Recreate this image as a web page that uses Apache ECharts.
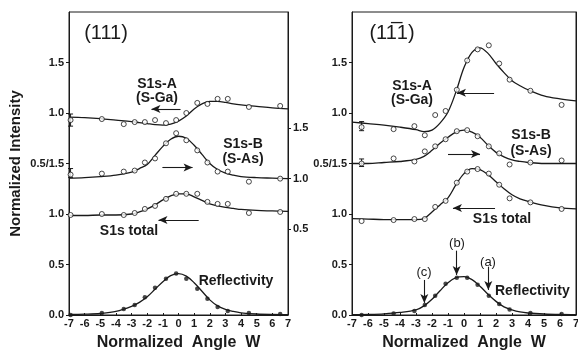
<!DOCTYPE html>
<html>
<head>
<meta charset="utf-8">
<script src="https://cdn.jsdelivr.net/npm/echarts@6/dist/echarts.min.js"></script>
<style>
html, body { margin: 0; padding: 0; background: #fff; }
#chart { width: 578px; height: 352px; }
</style>
</head>
<body>
<div id="chart"></div>
<script>
// angles where the fitted curves are sampled
const curveW = [-7, -6, -5, -4, -3, -2.5, -2, -1.5, -1, -0.5, 0, 0.5, 1, 1.5, 2, 2.5, 3, 3.5, 4, 5, 6, 7]

// (111) panel
const leftPointW = [-6.9, -4.9, -3.5, -2.8, -2.15, -1.5, -0.8, -0.15, 0.5, 1.2, 1.85, 2.5, 3.15, 4.5, 6.5]
const leftA = [0.93, 0.94, 0.89, 0.91, 0.91, 0.93, 0.90, 0.93, 1.00, 1.10, 1.09, 1.14, 1.14, 1.06, 1.07]
const leftB = [1.04, 1.05, 1.07, 1.08, 1.16, 1.20, 1.35, 1.45, 1.38, 1.28, 1.16, 1.07, 1.07, 0.97, 1.00]
const leftTotal = [0.99, 1.00, 0.99, 1.01, 1.05, 1.08, 1.15, 1.20, 1.20, 1.20, 1.12, 1.10, 1.10, 1.01, 1.02]
const leftRefl = [0.00, 0.02, 0.06, 0.10, 0.175, 0.27, 0.36, 0.41, 0.36, 0.26, 0.16, 0.08, 0.04, 0.02, 0.01]
const leftFitA = [0.96, 0.955, 0.945, 0.93, 0.915, 0.905, 0.895, 0.885, 0.88, 0.89, 0.92, 0.97, 1.04, 1.09, 1.115, 1.115, 1.105, 1.09, 1.08, 1.065, 1.05, 1.04]
const leftFitB = [1.005, 1.01, 1.02, 1.035, 1.065, 1.10, 1.14, 1.23, 1.32, 1.39, 1.42, 1.40, 1.33, 1.24, 1.15, 1.09, 1.055, 1.035, 1.02, 1.01, 1.005, 1.0]
const leftFitTotal = [0.985, 0.985, 0.99, 0.99, 1.00, 1.02, 1.05, 1.09, 1.14, 1.18, 1.20, 1.20, 1.17, 1.135, 1.10, 1.08, 1.065, 1.055, 1.045, 1.035, 1.03, 1.025]
const leftFitRefl = [0.005, 0.008, 0.015, 0.035, 0.085, 0.125, 0.18, 0.255, 0.33, 0.39, 0.41, 0.385, 0.32, 0.235, 0.15, 0.09, 0.055, 0.035, 0.022, 0.01, 0.005, 0.003]
const leftErrA = [[-6.9, 0.87, 0.99]]
const leftErrB = [[-6.9, 1.01, 1.10]]

// (1-11) panel
const rightPointW = [-6.4, -4.4, -3.1, -2.45, -1.8, -1.15, -0.45, 0.2, 0.85, 1.55, 2.2, 2.85, 4.15, 6.1]
const rightA = [0.86, 0.84, 0.87, 0.78, 0.98, 1.02, 1.23, 1.52, 1.63, 1.67, 1.49, 1.33, 1.22, 1.08]
const rightB = [1.00, 1.05, 1.02, 1.12, 1.17, 1.24, 1.32, 1.33, 1.27, 1.17, 1.10, 0.99, 1.01, 1.03]
const rightTotal = [0.93, 0.94, 0.95, 0.95, 1.07, 1.13, 1.31, 1.42, 1.445, 1.40, 1.29, 1.155, 1.115, 1.05]
const rightRefl = [0.00, 0.015, 0.04, 0.10, 0.19, 0.31, 0.37, 0.37, 0.30, 0.19, 0.11, 0.055, 0.02, 0.01]
const rightFitA = [0.91, 0.895, 0.88, 0.86, 0.835, 0.815, 0.83, 0.90, 1.01, 1.21, 1.45, 1.60, 1.645, 1.59, 1.49, 1.40, 1.32, 1.27, 1.23, 1.17, 1.14, 1.12]
const rightFitB = [1.0, 1.0, 1.01, 1.02, 1.04, 1.07, 1.13, 1.20, 1.26, 1.31, 1.33, 1.31, 1.26, 1.18, 1.11, 1.065, 1.035, 1.02, 1.01, 1.0, 1.0, 1.0]
const rightFitTotal = [0.955, 0.95, 0.945, 0.945, 0.945, 0.955, 1.02, 1.09, 1.16, 1.29, 1.40, 1.45, 1.44, 1.39, 1.32, 1.25, 1.19, 1.15, 1.125, 1.085, 1.06, 1.05]
const rightFitRefl = [0.003, 0.006, 0.012, 0.025, 0.05, 0.09, 0.155, 0.24, 0.32, 0.37, 0.38, 0.35, 0.285, 0.205, 0.135, 0.08, 0.05, 0.03, 0.02, 0.01, 0.005, 0.003]
const rightErrA = [[-6.4, 0.825, 0.915]]
const rightErrB = [[-6.4, 0.97, 1.045]]

// left axis tick labels (stacked offsets), positions 0, 0.5, ... 2.5
const stackTickLabels = ['0.0', '0.5', '1.0', '0.5/1.5', '1.0', '1.5']

const INK = '#1a1a1a'
const FONT = 'Liberation Sans, Arial, sans-serif'

const pair = (xs, ys) => xs.map((x, i) => [x, ys[i]])

const fitLine = (xi, yi, ys, marks) => ({
  type: 'line',
  xAxisIndex: xi,
  yAxisIndex: yi,
  data: pair(curveW, ys),
  smooth: 0.35,
  showSymbol: false,
  silent: true,
  lineStyle: { color: INK, width: 1.3 },
  markLine: marks ? {
    silent: true,
    symbol: ['none', 'arrow'],
    symbolSize: [6, 9],
    label: { show: false },
    lineStyle: { color: INK, width: 1.1, type: 'solid' },
    data: marks.map(m => [{ coord: m[0] }, { coord: m[1] }])
  } : undefined
})

const dots = (xi, yi, xs, ys, filled) => ({
  type: 'scatter',
  xAxisIndex: xi,
  yAxisIndex: yi,
  data: pair(xs, ys),
  symbol: 'circle',
  symbolSize: filled ? 4.5 : 5,
  z: 4,
  itemStyle: filled
    ? { color: INK }
    : { color: '#fff', borderColor: INK, borderWidth: 1 }
})

const errorBars = (xi, yi, data) => ({
  type: 'custom',
  xAxisIndex: xi,
  yAxisIndex: yi,
  data: data,
  encode: { x: 0, y: [1, 2] },
  silent: true,
  z: 3,
  renderItem: (params, api) => {
    const x = api.value(0)
    const lo = api.coord([x, api.value(1)])
    const hi = api.coord([x, api.value(2)])
    const w = 2.5
    const style = { stroke: INK, lineWidth: 1 }
    return {
      type: 'group',
      children: [
        { type: 'line', shape: { x1: lo[0], y1: lo[1], x2: hi[0], y2: hi[1] }, style },
        { type: 'line', shape: { x1: lo[0] - w, y1: lo[1], x2: lo[0] + w, y2: lo[1] }, style },
        { type: 'line', shape: { x1: hi[0] - w, y1: hi[1], x2: hi[0] + w, y2: hi[1] }, style }
      ]
    }
  }
})

const xAxisFor = (gi) => ({
  type: 'value',
  gridIndex: gi,
  min: -7,
  max: 7,
  interval: 1,
  name: 'Normalized  Angle  W',
  nameLocation: 'middle',
  nameGap: 20,
  nameMoveOverlap: false,
  nameTextStyle: { color: INK, fontFamily: FONT, fontWeight: 'bold', fontSize: 16 },
  axisLine: { onZero: false, lineStyle: { color: INK, width: 1 } },
  axisTick: { show: true, inside: true, length: 2, lineStyle: { color: INK } },
  splitLine: { show: false },
  axisLabel: { color: INK, fontFamily: FONT, fontWeight: 'bold', fontSize: 11, margin: 3 }
})

const stackAxis = (gi, withName) => ({
  type: 'value',
  gridIndex: gi,
  position: 'left',
  min: 0,
  max: 3,
  interval: 0.5,
  name: withName ? 'Normalized Intensity' : '',
  nameLocation: 'middle',
  nameGap: 46,
  nameMoveOverlap: false,
  nameTextStyle: { color: INK, fontFamily: FONT, fontWeight: 'bold', fontSize: 15 },
  axisLine: { show: true, onZero: false, lineStyle: { color: INK, width: 1 } },
  axisTick: { show: true, length: 3, lineStyle: { color: INK }, customValues: [0, 0.5, 1, 1.5, 2, 2.5] },
  splitLine: { show: false },
  axisLabel: {
    color: INK, fontFamily: FONT, fontWeight: 'bold', fontSize: 11, margin: 5,
    customValues: [0, 0.5, 1, 1.5, 2, 2.5],
    formatter: v => stackTickLabels[Math.round(v * 2)] || ''
  }
})

const hiddenAxis = (gi, min) => ({
  type: 'value', gridIndex: gi, min: min, max: min + 3, show: false
})

const rightAxis = (gi, min, showLabels) => ({
  type: 'value',
  gridIndex: gi,
  position: 'right',
  min: min,
  max: min + 3,
  axisLine: { show: true, onZero: false, lineStyle: { color: INK, width: 1 } },
  axisTick: { show: showLabels, length: 3, lineStyle: { color: INK }, customValues: [0.5, 1, 1.5] },
  splitLine: { show: false },
  axisLabel: {
    show: showLabels, color: INK, fontFamily: FONT, fontWeight: 'bold', fontSize: 11, margin: 5,
    customValues: [0.5, 1, 1.5],
    formatter: v => v.toFixed(1)
  }
})

const txt = (x, y, text, size, bold, align) => ({
  type: 'text',
  x: x,
  y: y,
  style: {
    text: text,
    fill: INK,
    font: (bold ? 'bold ' : '') + size + 'px ' + FONT,
    align: align || 'center',
    verticalAlign: 'middle'
  }
})

const chart = echarts.init(document.getElementById('chart'))

const gridBase = { top: 12, height: 303, show: true, borderColor: INK, borderWidth: 1, containLabel: false, outerBoundsMode: 'none' }

const option = {
  backgroundColor: '#fff',
  animation: false,
  grid: [
    Object.assign({ left: 69, width: 219 }, gridBase),
    Object.assign({ left: 352, width: 224 }, gridBase)
  ],
  xAxis: [xAxisFor(0), xAxisFor(1)],
  yAxis: [
    stackAxis(0, true),        // 0 main (S1s total, reflectivity)
    hiddenAxis(0, -1),         // 1 S1s-A shifted up by 1
    rightAxis(0, -0.35, true), // 2 S1s-B right scale
    stackAxis(1, false),       // 3
    hiddenAxis(1, -1),         // 4
    rightAxis(1, -0.5, false)  // 5
  ],
  graphic: [
    txt(106, 33, '(111)', 20, false),
    txt(157, 84, 'S1s-A', 14, true),
    txt(157, 98, '(S-Ga)', 14, true),
    txt(243, 144, 'S1s-B', 14, true),
    txt(243, 159, '(S-As)', 14, true),
    txt(129, 231, 'S1s total', 14, true),
    txt(236, 281, 'Reflectivity', 14, true),
    txt(392, 33, '(11\u03051)', 20, false),
    txt(412, 86, 'S1s-A', 14, true),
    txt(412, 100, '(S-Ga)', 14, true),
    txt(531, 135, 'S1s-B', 14, true),
    txt(531, 151, '(S-As)', 14, true),
    txt(502, 219, 'S1s total', 14, true),
    txt(495, 291, 'Reflectivity', 14, true, 'left'),
    txt(457, 243, '(b)', 13, false),
    txt(424, 272, '(c)', 13, false),
    txt(488, 262, '(a)', 13, false)
  ],
  series: [
    // (111)
    fitLine(0, 1, leftFitA, [[[0.13, 1.04], [-1.73, 1.04]]]),
    dots(0, 1, leftPointW, leftA, false),
    errorBars(0, 1, leftErrA),
    fitLine(0, 2, leftFitB, [[[-1.03, 1.11], [0.9, 1.11]]]),
    dots(0, 2, leftPointW, leftB, false),
    errorBars(0, 2, leftErrB),
    fitLine(0, 0, leftFitTotal, [[[1.29, 0.94], [-1.28, 0.94]]]),
    dots(0, 0, leftPointW, leftTotal, false),
    fitLine(0, 0, leftFitRefl),
    dots(0, 0, leftPointW, leftRefl, true),
    // (1-11)
    fitLine(1, 4, rightFitA, [[[1.88, 1.2], [-0.44, 1.2]]]),
    dots(1, 4, rightPointW, rightA, false),
    errorBars(1, 4, rightErrA),
    fitLine(1, 5, rightFitB, [[[-1.0, 1.094], [1.0, 1.094]]]),
    dots(1, 5, rightPointW, rightB, false),
    errorBars(1, 5, rightErrB),
    fitLine(1, 3, rightFitTotal, [[[1.94, 1.06], [-0.69, 1.06]]]),
    dots(1, 3, rightPointW, rightTotal, false),
    fitLine(1, 3, rightFitRefl, [
      [[-0.46, 0.637], [-0.46, 0.396]],
      [[-2.48, 0.347], [-2.48, 0.12]],
      [[1.52, 0.478], [1.52, 0.248]]
    ]),
    dots(1, 3, rightPointW, rightRefl, true)
  ]
}

chart.setOption(option)
</script>
</body>
</html>
